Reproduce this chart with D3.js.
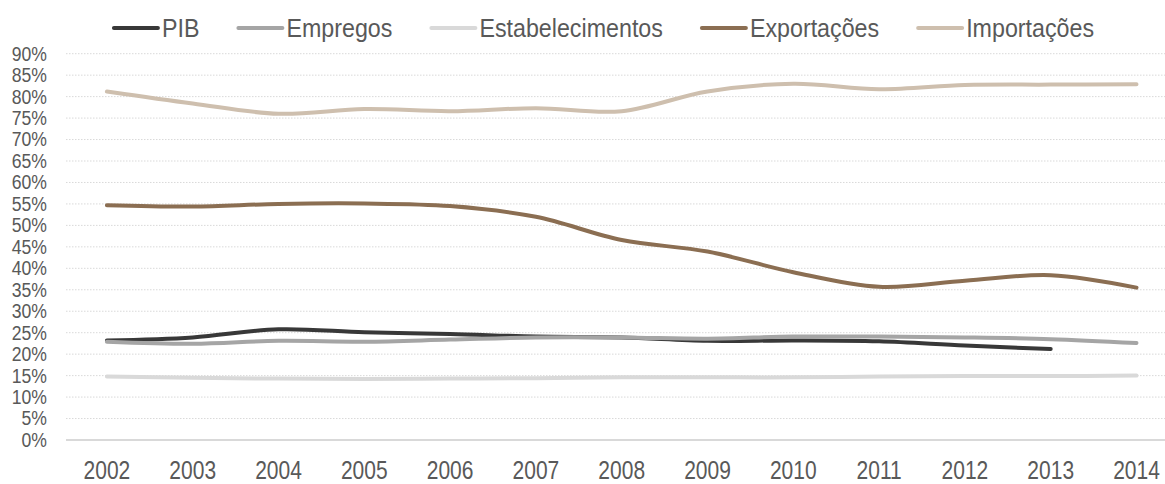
<!DOCTYPE html>
<html>
<head>
<meta charset="utf-8">
<script src="https://cdn.jsdelivr.net/npm/d3@7"></script>
<style>
  html, body { margin: 0; padding: 0; background: #fff; }
  svg text { font-family: "Liberation Sans", Arial, sans-serif; fill: #595959; }
</style>
</head>
<body>
<svg id="chart" width="1165" height="484"></svg>
<script>
// Participação percentual por ano
const years = ["2002","2003","2004","2005","2006","2007","2008","2009","2010","2011","2012","2013","2014"];
const pib              = [23.2, 23.9, 25.8, 25.1, 24.7, 24.1, 23.9, 23.1, 23.2, 23.0, 22.0, 21.2, null];
const empregos         = [22.9, 22.4, 23.1, 22.9, 23.4, 23.9, 23.9, 23.6, 24.1, 24.1, 23.9, 23.5, 22.6];
const estabelecimentos = [14.8, 14.5, 14.3, 14.2, 14.3, 14.4, 14.6, 14.6, 14.6, 14.8, 14.9, 14.9, 15.0];
const exportacoes      = [54.7, 54.4, 55.0, 55.1, 54.5, 52.0, 46.6, 43.9, 39.1, 35.7, 37.1, 38.4, 35.5];
const importacoes      = [81.2, 78.4, 76.0, 77.1, 76.6, 77.3, 76.6, 81.2, 83.0, 81.7, 82.7, 82.8, 82.9];
const yTicks = [0,5,10,15,20,25,30,35,40,45,50,55,60,65,70,75,80,85,90];

const series = [
  { name: "PIB",              values: pib,              color: "#383838" },
  { name: "Empregos",         values: empregos,         color: "#a5a5a5" },
  { name: "Estabelecimentos", values: estabelecimentos, color: "#d9d9d9" },
  { name: "Exportações",      values: exportacoes,      color: "#8b6e52" },
  { name: "Importações",      values: importacoes,      color: "#cebfae" }
];

const svg = d3.select("#chart");
const plotLeft = 64, step = 85.8;

// condensed lettering: squeeze glyphs horizontally by a factor
function condense(sel, factor) {
  sel.each(function () {
    const w = this.getComputedTextLength();
    d3.select(this).attr("textLength", w * factor).attr("lengthAdjust", "spacingAndGlyphs");
  });
}

const x = d3.scaleBand().domain(years).range([plotLeft, plotLeft + step * years.length]);
const y = d3.scaleLinear().domain([0, 90]).range([440, 53.7]);
const cx = d => x(d) + x.bandwidth() / 2;

// gridlines
svg.append("g").selectAll("line")
  .data(yTicks.filter(t => t > 0))
  .join("line")
  .attr("x1", 66).attr("x2", 1165)
  .attr("y1", d => y(d)).attr("y2", d => y(d))
  .attr("stroke", "#d9d9d9").attr("stroke-width", 1)
  .attr("stroke-dasharray", "1.5,1.5");

// baseline
svg.append("line")
  .attr("x1", 66).attr("x2", 1165)
  .attr("y1", y(0)).attr("y2", y(0))
  .attr("stroke", "#d9d9d9").attr("stroke-width", 2);

// y axis labels
const yAxis = d3.axisLeft(y).tickValues(yTicks).tickFormat(d => d + "%").tickSize(0).tickPadding(0);
const yg = svg.append("g").attr("transform", "translate(47,0)").call(yAxis);
yg.select(".domain").remove();
yg.selectAll("text").attr("font-size", "20px").attr("fill", "#595959")
  .attr("font-family", "Liberation Sans, Arial, sans-serif")
  .call(condense, 0.88);

// x axis labels (tall, narrow lettering)
const xAxis = d3.axisBottom(x).tickSize(0).tickPadding(0);
const xg = svg.append("g").attr("transform", "translate(0,461.5)").call(xAxis);
xg.select(".domain").remove();
xg.selectAll("text").attr("font-size", "21px").attr("fill", "#595959")
  .attr("font-family", "Liberation Sans, Arial, sans-serif")
  .attr("transform", "scale(1,1.19)");

// lines
const line = d3.line()
  .defined(v => v != null)
  .x((v, i) => cx(years[i]))
  .y(v => y(v))
  .curve(d3.curveCardinal.tension(0));

svg.append("g").selectAll("path")
  .data(series)
  .join("path")
  .attr("d", s => line(s.values))
  .attr("fill", "none")
  .attr("stroke", s => s.color)
  .attr("stroke-width", 4)
  .attr("stroke-linecap", "round")
  .attr("stroke-linejoin", "round");

// legend, centred over the plot
const legend = svg.append("g");
const ly = 28, swatch = 50, gap = 37, legendCenter = 603, squeeze = 0.93;
const items = series.map(s => {
  const g = legend.append("g");
  g.append("line")
    .attr("x1", 2).attr("x2", 46)
    .attr("y1", ly).attr("y2", ly)
    .attr("stroke", s.color).attr("stroke-width", 4).attr("stroke-linecap", "round");
  const t = g.append("text")
    .attr("x", swatch).attr("y", ly)
    .attr("dy", "0.36em")
    .attr("font-size", "25px")
    .attr("font-family", "Liberation Sans, Arial, sans-serif")
    .text(s.name);
  const w = t.node().getComputedTextLength() * squeeze;
  t.call(condense, squeeze);
  return { g, w: swatch + w };
});
const total = d3.sum(items, d => d.w) + gap * (items.length - 1);
let lx = legendCenter - total / 2;
items.forEach(it => {
  it.g.attr("transform", `translate(${lx},0)`);
  lx += it.w + gap;
});
</script>
</body>
</html>
